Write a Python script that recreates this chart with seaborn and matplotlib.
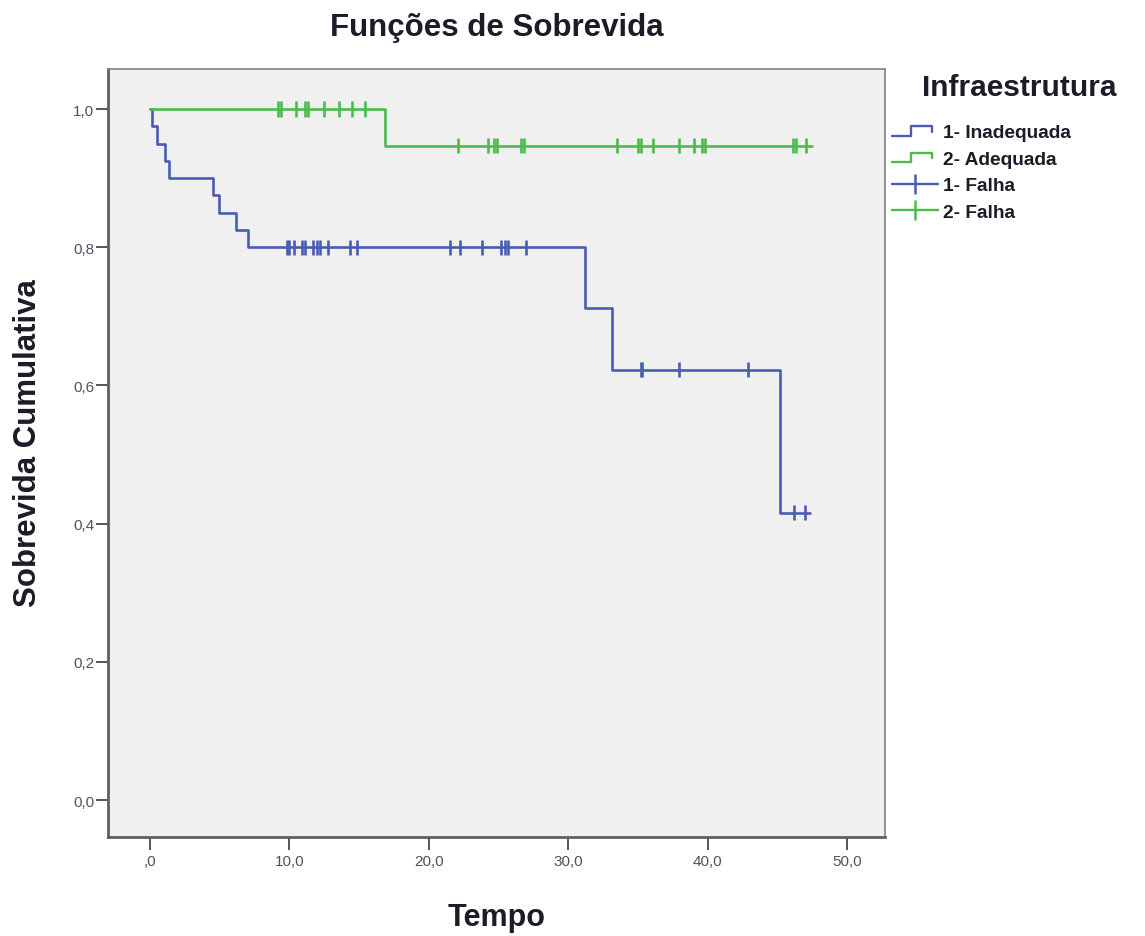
import numpy as np
import pandas as pd
import matplotlib
matplotlib.use("Agg")
import matplotlib.pyplot as plt
import seaborn as sns
from matplotlib.lines import Line2D
from matplotlib.legend_handler import HandlerBase

# ---------------- data ----------------
groups = ["1- Inadequada", "2- Adequada"]

blue_event_t = [0.14, 0.53, 1.12, 1.39, 4.54, 4.97, 6.21, 7.05, 31.2, 33.1, 45.2]
blue_event_s = [0.975, 0.950, 0.925, 0.900, 0.875, 0.850, 0.825, 0.800, 0.712, 0.623, 0.416]
blue_end = 47.3
blue_censor_t = [9.8, 10.0, 10.3, 10.9, 11.1, 11.7, 11.95, 12.2, 12.8, 14.35, 14.85,
                 21.5, 22.2, 23.8, 25.2, 25.45, 25.65, 27.0,
                 35.2, 35.3, 37.9, 42.85, 46.2, 46.95]

green_event_t = [16.85]
green_event_s = [0.947]
green_end = 47.45
green_censor_t = [9.2, 9.4, 10.45, 11.15, 11.35, 12.45, 13.55, 14.5, 15.45,
                  22.1, 24.25, 24.65, 24.85, 26.6, 26.8, 33.5, 35.0, 35.2, 36.1,
                  37.95, 39.0, 39.6, 39.8, 46.1, 46.3, 47.05]

x_ticks = [0, 10, 20, 30, 40, 50]
x_labels = [",0", "10,0", "20,0", "30,0", "40,0", "50,0"]
y_ticks = [0.0, 0.2, 0.4, 0.6, 0.8, 1.0]
y_labels = ["0,0", "0,2", "0,4", "0,6", "0,8", "1,0"]

colors = {"1- Inadequada": "#4a5db3", "2- Adequada": "#4cbb4c"}

# ---------------- build tables ----------------
def step_table(name, ev_t, ev_s, end):
    t = [0.0] + list(ev_t) + [end]
    s = [1.0] + list(ev_s) + [ev_s[-1]]
    return pd.DataFrame({"Tempo": t, "S": s, "grupo": name})

def censor_table(name, ev_t, ev_s, cens_t):
    et = np.array([0.0] + list(ev_t))
    es = np.array([1.0] + list(ev_s))
    idx = np.searchsorted(et, np.array(cens_t), side="right") - 1
    return pd.DataFrame({"Tempo": cens_t, "S": es[idx], "grupo": name})

lines = pd.concat([step_table(groups[0], blue_event_t, blue_event_s, blue_end),
                   step_table(groups[1], green_event_t, green_event_s, green_end)],
                  ignore_index=True)
cens = pd.concat([censor_table(groups[0], blue_event_t, blue_event_s, blue_censor_t),
                  censor_table(groups[1], green_event_t, green_event_s, green_censor_t)],
                 ignore_index=True)

# ---------------- plot ----------------
sns.set_style("white")
plt.rcParams["font.family"] = ["Liberation Sans", "DejaVu Sans"]

fig = plt.figure(figsize=(11.45, 9.37), dpi=100)
ax = fig.add_axes([108 / 1145, 1 - 838 / 937, (885 - 108) / 1145, (838 - 70) / 937])
ax.set_facecolor("#f0f0f0")

sns.lineplot(data=lines, x="Tempo", y="S", hue="grupo", palette=colors,
             estimator=None, sort=False, drawstyle="steps-post",
             linewidth=1.9, legend=False, ax=ax)
sns.scatterplot(data=cens, x="Tempo", y="S", hue="grupo", palette=colors,
                marker="|", s=120, linewidth=1.9, legend=False, ax=ax, zorder=3)

ax.set_xlim(-3.0, 52.7)
ax.set_ylim(-0.0535, 1.058)
ax.set_xticks(x_ticks)
ax.set_xticklabels(x_labels)
ax.set_yticks(y_ticks)
ax.set_yticklabels(y_labels)
ax.tick_params(axis="both", direction="out", length=9, width=1.4, color="#555555",
               labelsize=11, labelcolor="#505060", bottom=True, left=True)
ax.tick_params(axis="x", pad=3)
ax.tick_params(axis="y", pad=1)
for sp in ax.spines.values():
    sp.set_color("#808080")
    sp.set_linewidth(1.2)
ax.spines["left"].set_color("#606060")
ax.spines["bottom"].set_color("#606060")
ax.spines["left"].set_linewidth(2)
ax.spines["bottom"].set_linewidth(2)

ax.set_xlabel("Tempo", fontsize=22, fontweight="bold", color="#1c1c28")
ax.xaxis.set_label_coords((497 - 108) / 777, -(918 - 838) / 768)
ax.set_ylabel("Sobrevida Cumulativa", fontsize=22.5, fontweight="bold", color="#1c1c28")
ax.yaxis.set_label_coords(-(108 - 28) / 777, (838 - 443) / 768)
ax.xaxis.label.set_va("center")
ax.yaxis.label.set_va("center")
fig.text(497 / 1145, 1 - 28 / 937, "Funções de Sobrevida", ha="center", va="center",
         fontsize=22.5, fontweight="bold", color="#1c1c28")

# ---------------- legend ----------------
class StepHandler(HandlerBase):
    def create_artists(self, legend, orig_handle, xdescent, ydescent, width, height,
                       fontsize, trans):
        x0 = -xdescent
        y0 = -ydescent
        xs = np.array([0, 0.42, 0.42, 0.88, 0.88]) * width + x0
        ys = np.array([0.1, 0.1, 0.8, 0.8, 0.4]) * height + y0
        l = Line2D(xs, ys, color=orig_handle.get_color(), linewidth=1.7, transform=trans)
        return [l]

h_steps = [Line2D([], [], color=colors[g]) for g in groups]
h_cens = [Line2D([], [], color=colors[g], marker="|", markersize=14, markeredgewidth=1.8,
                 linewidth=1.7) for g in groups]
handles = h_steps + h_cens
labels = ["1- Inadequada", "2- Adequada", "1- Falha", "2- Falha"]
fig.legend(handles, labels, loc="upper left", bbox_to_anchor=(884 / 1145, 1 - 117 / 937),
           frameon=False, prop={"size": 13.8, "weight": "bold"}, labelcolor="#1c1c28",
           handlelength=2.4, handletextpad=0.3, labelspacing=0.48, borderaxespad=0,
           handler_map={h: StepHandler() for h in h_steps})
fig.text(922 / 1145, 1 - 88 / 937, "Infraestrutura", ha="left", va="center",
         fontsize=21.5, fontweight="bold", color="#1c1c28")

fig.savefig("out.png", dpi=100, facecolor="white")
